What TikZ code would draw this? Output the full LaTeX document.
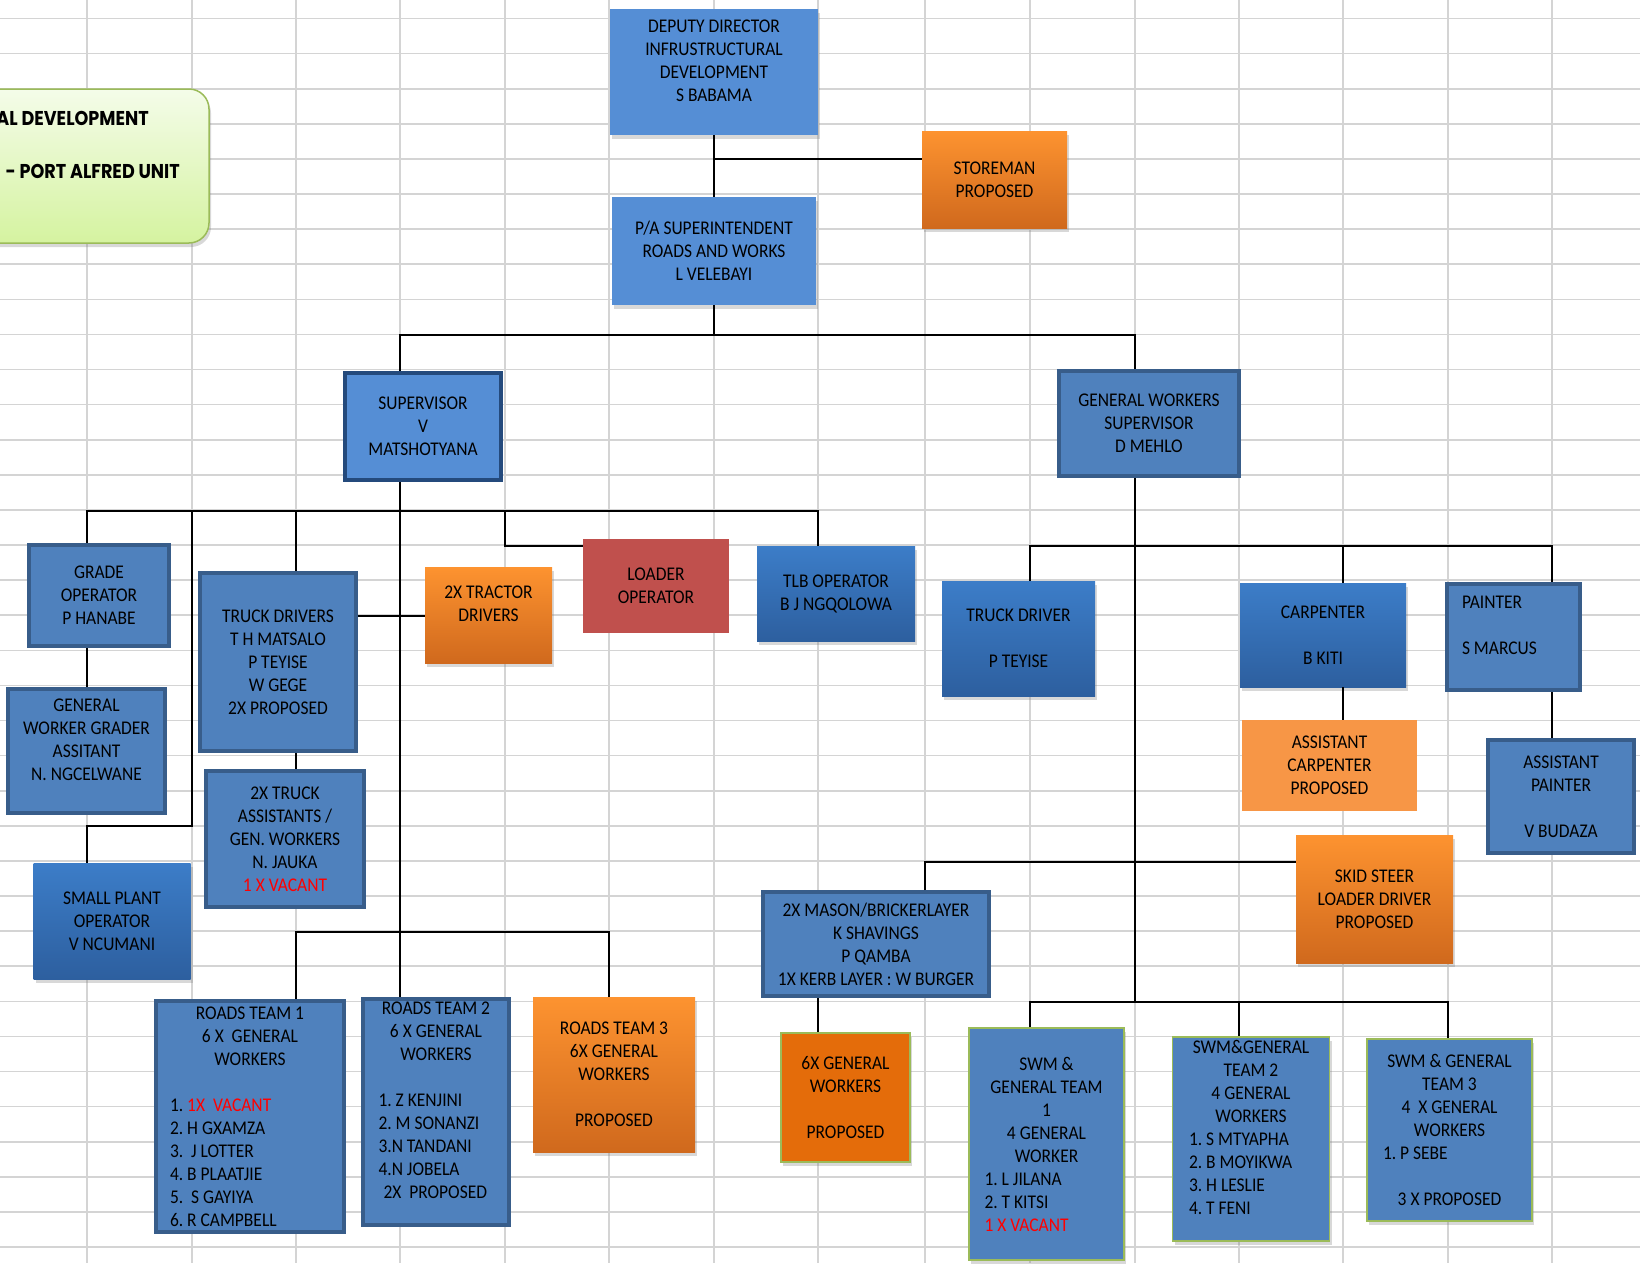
\documentclass[tikz,border=0pt]{standalone}
\usepackage{fontspec}
\setmainfont{Carlito}[FakeStretch=0.9]
\newfontfamily\bannerfont{Poppins}[FakeStretch=0.88]
\usepackage{tikz}
\usetikzlibrary{shadows}
\setlength{\parindent}{0pt}
\frenchspacing
\definecolor{Sky}{HTML}{558ED5}
\definecolor{Steel}{HTML}{4F81BD}
\definecolor{SteelEdge}{HTML}{385D8A}
\definecolor{Navy}{HTML}{244A7C}
\definecolor{GlossTop}{HTML}{3C7DC8}
\definecolor{GlossBot}{HTML}{2D5F9F}
\definecolor{AmberTop}{HTML}{FD9330}
\definecolor{AmberBot}{HTML}{D0691D}
\definecolor{Brick}{HTML}{C0504D}
\definecolor{Peach}{HTML}{F79646}
\definecolor{Rust}{HTML}{E46C0A}
\definecolor{Olive}{HTML}{9BBB59}
\definecolor{MintTop}{HTML}{F4FCE9}
\definecolor{MintBot}{HTML}{D5F3A0}
\definecolor{Cell}{HTML}{D4D4D4}
\definecolor{Vacant}{HTML}{FF0000}
\newcommand{\cardfont}{\fontsize{19.4}{23}\selectfont}
\newcommand{\bannerstyle}{\bannerfont\bfseries\fontsize{20}{24}\selectfont}
\newcommand{\vac}[1]{\textcolor{Vacant}{#1}}
\newcommand{\centred}[1]{\hspace*{\fill}#1\hspace*{\fill}\mbox{}}
\newcommand{\plainsp}{\spaceskip=0pt\xspaceskip=0pt\relax}

\begin{document}
\begin{tikzpicture}[x=1pt,y=-1pt,
  cellline/.style={Cell,line width=1.6pt},
  link/.style={black,line width=2pt},
  card/.style={rectangle,inner sep=0pt,align=center,text=black,font=\cardfont},
  soft/.style={drop shadow={opacity=0.3,shadow xshift=2pt,shadow yshift=-4pt}},
  plain/.style={card,soft,fill=Sky},
  ruled/.style={card,fill=Steel,draw=SteelEdge,line width=4pt},
  glossy/.style={card,soft,top color=GlossTop,bottom color=GlossBot},
  amber/.style={card,soft,top color=AmberTop,bottom color=AmberBot},
  team/.style={card,soft,fill=Steel,draw=Olive,line width=1.5pt},
  roster/.style={align=left,text width=#1,execute at begin node=\plainsp},
  banner/.style={rectangle,rounded corners=20pt,top color=MintTop,bottom color=MintBot,draw=Olive,line width=1.5pt,soft},
  bannertext/.style={inner sep=0pt,text=black,font=\bannerstyle}
]
\useasboundingbox (0,0) rectangle (1640,1263);
\fill[white] (0,0) rectangle (1640,1263);

% sheet cells
\foreach \gx [count=\i from 0] in {87,192,296,400,505,609,714,818,925,1030,1135,1239,1343,1448,1552} {
  \draw[cellline] (\gx,0) -- (\gx,1263);
  \coordinate (k\i) at (\gx,0);
}
\foreach \gy in {0,...,35}
  \draw[cellline] (0,18.5+35.1*\gy) -- (1640,18.5+35.1*\gy);
\coordinate (rA) at (0,159);
\coordinate (rB) at (0,335);
\coordinate (rC) at (0,511);
\coordinate (rD) at (0,545.5);
\coordinate (rE) at (0,616);
\coordinate (rF) at (0,826);
\coordinate (rG) at (0,862);
\coordinate (rH) at (0,932);
\coordinate (rI) at (0,1002);

% heading
\node[banner,minimum width=249,minimum height=154] (title) at (84.5,166) {};
\node[bannertext,anchor=base east] (titleA) at (149,125) {AL DEVELOPMENT};
\node[bannertext,anchor=base east] (titleB) at (180,178) {- PORT ALFRED UNIT};

% management
\node[plain,minimum width=208,minimum height=126] (dd) at (714,72)
  {DEPUTY DIRECTOR\\INFRUSTRUCTURAL\\DEVELOPMENT\\S BABAMA\\ \mbox{}};
\node[amber,minimum width=145,minimum height=97] (store) at (994.5,179.5)
  {STOREMAN\\PROPOSED};
\node[plain,minimum width=204,minimum height=108] (pa) at (714,251)
  {P/A SUPERINTENDENT\\ROADS AND WORKS\\L VELEBAYI};
\node[ruled,fill=Sky,draw=Navy,minimum width=156,minimum height=107] (sup) at (423,426.5)
  {SUPERVISOR\\V\\MATSHOTYANA};
\node[ruled,minimum width=180,minimum height=105] (gws) at (1149,423.5)
  {GENERAL WORKERS\\SUPERVISOR\\D MEHLO};

% roads side
\node[ruled,minimum width=140,minimum height=101] (grade) at (99,595.5)
  {GRADE\\OPERATOR\\P HANABE};
\node[ruled,minimum width=157,minimum height=124] (gwga) at (86.5,751)
  {GENERAL\\WORKER GRADER\\ASSITANT\\N. NGCELWANE\\ \mbox{}};
\node[glossy,minimum width=157,minimum height=116] (small) at (112,921)
  {SMALL PLANT\\OPERATOR\\V NCUMANI};
\node[ruled,minimum width=156,minimum height=178] (trucks) at (278,662)
  {TRUCK DRIVERS\\T H MATSALO\\P TEYISE\\W GEGE\\2X PROPOSED};
\node[ruled,minimum width=158,minimum height=136] (truckass) at (285,839)
  {2X TRUCK\\ASSISTANTS /\\GEN. WORKERS\\N. JAUKA\\\vac{1 X VACANT}};
\node[amber,minimum width=127,minimum height=96] (tractor) at (488.5,615)
  {2X TRACTOR\\DRIVERS\\ \mbox{}};
\node[card,fill=Brick,minimum width=146,minimum height=94] (loader) at (656,586)
  {LOADER\\OPERATOR};
\node[glossy,minimum width=158,minimum height=95] (tlb) at (836,593.5)
  {TLB OPERATOR\\B J NGQOLOWA};
\node[ruled,roster=160,minimum width=188,minimum height=231] (rt1) at (250,1116.5)
  {\centred{ROADS TEAM 1}\\\centred{6 X \ GENERAL}\\\centred{WORKERS}\\ \mbox{}\\
   1. \vac{1X \ VACANT}\\2. H GXAMZA\\3. \ J LOTTER\\4. B PLAATJIE\\5. \ S GAYIYA\\6. R CAMPBELL};
\node[ruled,roster=115,minimum width=146,minimum height=226] (rt2) at (436,1112)
  {\centred{ROADS TEAM 2}\\\centred{6 X GENERAL}\\\centred{WORKERS}\\ \mbox{}\\
   1. Z KENJINI\\2. M SONANZI\\3.N TANDANI\\4.N JOBELA\\\hspace*{5pt}2X \ PROPOSED\\ \mbox{}};
\node[amber,minimum width=162,minimum height=155] (rt3) at (614,1074.5)
  {ROADS TEAM 3\\6X GENERAL\\WORKERS\\ \mbox{}\\PROPOSED};

% general works side
\node[glossy,minimum width=153,minimum height=115] (truckdrv) at (1018.5,638.5)
  {TRUCK DRIVER\\ \mbox{}\\P TEYISE};
\node[glossy,minimum width=166,minimum height=104] (carp) at (1323,635)
  {CARPENTER\\ \mbox{}\\B KITI};
\node[card,fill=Peach,minimum width=175,minimum height=91] (asscarp) at (1329.5,765.5)
  {ASSISTANT\\CARPENTER\\PROPOSED};
\node[ruled,roster=102,minimum width=133,minimum height=106] (painter) at (1513,637)
  {PAINTER\\ \mbox{}\\S MARCUS\\ \mbox{}};
\node[ruled,minimum width=146,minimum height=113] (asspaint) at (1561,796.5)
  {ASSISTANT\\PAINTER\\ \mbox{}\\V BUDAZA};
\node[amber,minimum width=157,minimum height=128] (skid) at (1374.5,899)
  {SKID STEER\\LOADER DRIVER\\PROPOSED};
\node[ruled,minimum width=226,minimum height=104] (mason) at (876,944)
  {2X MASON/BRICKERLAYER\\K SHAVINGS\\P QAMBA\\1X KERB LAYER : W BURGER};
\node[card,soft,fill=Rust,draw=Olive,line width=1.5pt,minimum width=129,minimum height=129] (gen6) at (845.5,1097.5)
  {6X GENERAL\\WORKERS\\ \mbox{}\\PROPOSED};
\node[team,roster=124,minimum width=155,minimum height=232] (swm1) at (1046.5,1144)
  {\centred{SWM \&}\\\centred{GENERAL TEAM}\\\centred{1}\\\centred{4 GENERAL}\\\centred{WORKER}\\
   1. L JILANA\\2. T KITSI\\\vac{1 X VACANT}};
\node[team,roster=124,minimum width=157,minimum height=204] (swm2) at (1251,1139)
  {\centred{SWM\&GENERAL}\\\centred{TEAM 2}\\\centred{4 GENERAL}\\\centred{WORKERS}\\
   1. S MTYAPHA\\2. B MOYIKWA\\3. H LESLIE\\4. T FENI\\ \mbox{}};
\node[team,roster=133,minimum width=165,minimum height=182] (swm3) at (1449.5,1130)
  {\centred{SWM \& GENERAL}\\\centred{TEAM 3}\\\centred{4 \ X GENERAL}\\\centred{WORKERS}\\
   1. P SEBE\\ \mbox{}\\\centred{3 X PROPOSED}};

% connectors
\draw[link] (dd.south) -- (dd.south |- pa.north);
\draw[link] (dd.south |- rA) -- (store.west |- rA);
\draw[link] (pa.south) -- (pa.south |- rB);
\draw[link] (k3 |- sup.north) |- (k10 |- rB) -- (k10 |- gws.north);
\draw[link] (k3 |- sup.south) -- (k3 |- rH);
\draw[link] (k0 |- grade.north) |- (k7 |- rC) -- (k7 |- tlb.north);
\draw[link] (k0 |- grade.south) -- (k0 |- gwga.north);
\draw[link] (k1 |- rC) |- (k0 |- rF) -- (k0 |- small.north);
\draw[link] (k2 |- rC) -- (k2 |- trucks.north);
\draw[link] (k2 |- trucks.south) -- (k2 |- truckass.north);
\draw[link] (trucks.east |- rE) -- (tractor.west |- rE);
\draw[link] (k4 |- rC) |- (loader.west |- rD);
\draw[link] (k2 |- rt1.north) |- (k5 |- rH) -- (k5 |- rt3.north);
\draw[link] (k3 |- rH) -- (k3 |- rt2.north);
\draw[link] (k10 |- gws.south) -- (k10 |- rI);
\draw[link] (k9 |- truckdrv.north) |- (k14 |- rD) -- (k14 |- painter.north);
\draw[link] (k12 |- rD) -- (k12 |- carp.north);
\draw[link] (k12 |- carp.south) -- (k12 |- asscarp.north);
\draw[link] (k14 |- painter.south) -- (k14 |- asspaint.north);
\draw[link] (k8 |- mason.north) |- (skid.west |- rG);
\draw[link] (k7 |- mason.south) -- (k7 |- gen6.north);
\draw[link] (k9 |- swm1.north) |- (k13 |- rI) -- (k13 |- swm3.north);
\draw[link] (k11 |- rI) -- (k11 |- swm2.north);
\end{tikzpicture}
\end{document}
